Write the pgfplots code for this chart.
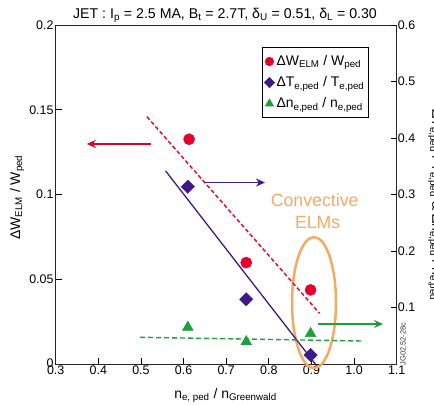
\documentclass[border=0pt]{standalone}
\usepackage{pgfplots}
\pgfplotsset{compat=1.18}
\usepackage{fontspec}
\setmainfont{Liberation Sans}
\usetikzlibrary{arrows.meta}

\definecolor{elmred}{HTML}{E4002B}
\definecolor{tepurple}{HTML}{3D1A87}
\definecolor{negreen}{HTML}{1E9E3C}
\definecolor{convorange}{HTML}{F4AA62}

\newcommand{\ticksize}{\fontsize{12.5}{15}\selectfont}
\newcommand{\labsize}{\fontsize{14}{16}\selectfont}
\newcommand{\sub}[1]{\textsubscript{#1}}

\pgfplotsset{
  jetaxis/.style={
    at={(55.7bp,41bp)}, anchor=south west,
    scale only axis, width=341bp, height=339bp,
    xmin=0.3, xmax=1.1,
    tick align=inside, major tick length=6bp,
    tick style={black, line width=0.7bp},
    axis line style={black!85, line width=0.8bp},
    every tick label/.append style={font=\ticksize},
    clip=false,
  },
}

\begin{document}
\begin{tikzpicture}
\useasboundingbox (0,0) rectangle (434bp,405bp);

% left axis: stored energy drop
\begin{axis}[jetaxis,
  ymin=0, ymax=0.2,
  xtick={0.3,0.4,0.5,0.6,0.7,0.8,0.9,1.0,1.1},
  xticklabels={0.3,0.4,0.5,0.6,0.7,0.8,0.9,1.0,1.1},
  ytick={0.05,0.1,0.15,0.2},
  yticklabels={0.05,0.1,0.15,0.2},
  xtick pos=bottom, ytick pos=left,
  xticklabel style={inner sep=1.5bp},
  yticklabel style={inner sep=2bp},
]
  % zero of the left scale, set just above the corner
  \node[font=\ticksize, anchor=south east, inner sep=1bp] at (axis cs:0.3,0) [xshift=-1bp, yshift=-4.5bp] {0};

  % Convective ELM group
  \draw[convorange, line width=2.5bp] (axis cs:0.906,0.0362) ellipse [x radius=22bp, y radius=65.5bp];
  \node[convorange, font=\fontsize{17.8}{20}\selectfont, anchor=base] at (axis cs:0.9075,0.0928) {Convective};
  \node[convorange, font=\fontsize{17.8}{20}\selectfont, anchor=base] at (axis cs:0.9146,0.0801) {ELMs};

  \addplot[elmred, line width=1.4bp, dash pattern=on 4bp off 2.5bp] coordinates {(0.514,0.1459) (0.919,0.0299)};
  \addplot[only marks, mark=*, color=elmred, mark size=5.6bp] coordinates {(0.613,0.1326) (0.747,0.0598) (0.898,0.0437)};
  \draw[-{Stealth[length=9bp,width=8bp]}, elmred, line width=1.3bp] (axis cs:0.523,0.1298) -- (axis cs:0.373,0.1298);
\end{axis}

% right axis: pedestal temperature and density drops
\begin{axis}[jetaxis,
  ymin=0, ymax=0.6,
  axis x line=none, axis y line*=right,
  ytick={0.1,0.2,0.3,0.4,0.5,0.6},
  yticklabels={0.1,0.2,0.3,0.4,0.5,0.6},
  yticklabel style={inner sep=1bp},
  legend style={at={(0.605,0.934)}, anchor=north west, draw=black, line width=0.7bp,
    font=\fontsize{14}{16}\selectfont, inner xsep=2bp, inner ysep=6bp, row sep=5.5bp,
    /tikz/every even column/.append style={column sep=1bp}},
  legend cell align=left,
  legend image code/.code={\draw[#1] plot coordinates {(0.1cm,0cm)};},
]
  \addlegendimage{only marks, mark=*, elmred, mark size=4.2bp}
  \addlegendentry{ΔW\sub{ELM} / W\sub{ped}}
  \addlegendimage{only marks, mark=square*, mark options={rotate=45}, tepurple, mark size=3.6bp}
  \addlegendentry{ΔT\sub{e,ped} / T\sub{e,ped}}
  \addlegendimage{only marks, mark=triangle*, negreen, mark size=4.6bp}
  \addlegendentry{Δn\sub{e,ped} / n\sub{e,ped}}

  \addplot[tepurple, line width=1.3bp, forget plot] coordinates {(0.558,0.3416) (0.909,0)};
  \addplot[negreen, line width=1.4bp, dash pattern=on 5bp off 3bp, forget plot] coordinates {(0.498,0.0473) (1.018,0.0407)};
  \addplot[only marks, mark=square*, mark options={rotate=45}, color=tepurple, mark size=4.7bp, forget plot]
    coordinates {(0.610,0.3138) (0.747,0.1145) (0.898,0.0159)};
  \addplot[only marks, mark=triangle*, color=negreen, mark size=6.2bp, forget plot]
    coordinates {(0.610,0.0650) (0.747,0.0395) (0.898,0.0540)};

  \draw[-{Stealth[length=9bp,width=8bp]}, tepurple, line width=1.3bp] (axis cs:0.650,0.3212) -- (axis cs:0.791,0.3212);
  \draw[-{Stealth[length=9bp,width=8bp]}, negreen, line width=1.3bp] (axis cs:0.916,0.0708) -- (axis cs:1.068,0.0708);
\end{axis}

% titles and axis labels
\node[anchor=base, font=\fontsize{14.2}{16}\selectfont] at (225bp,405bp-18.3bp)
  {JET : I\sub{p} = 2.5 MA, B\sub{t} = 2.7T, δ\sub{U} = 0.51, δ\sub{L} = 0.30};
\node[anchor=base, font=\labsize] at (225.5bp,405bp-398.3bp) {n\sub{e, ped} / n\sub{Greenwald}};
\node[anchor=base, rotate=90, font=\labsize] at (20bp,405bp-197.5bp) {ΔW\sub{ELM} / W\sub{ped}};
\node[anchor=south, rotate=-90, inner sep=0pt, font=\labsize] at (428bp,405bp-205bp)
  {ΔT\sub{e,ped} / T\sub{e,ped} \& Δn\sub{e,ped} / n\sub{e,ped}};
\node[anchor=center, rotate=90, inner sep=0pt, font=\fontsize{7.5}{9}\selectfont, black!80] at (403bp,405bp-344bp) {JG02.52-28c};
\end{tikzpicture}
\end{document}
